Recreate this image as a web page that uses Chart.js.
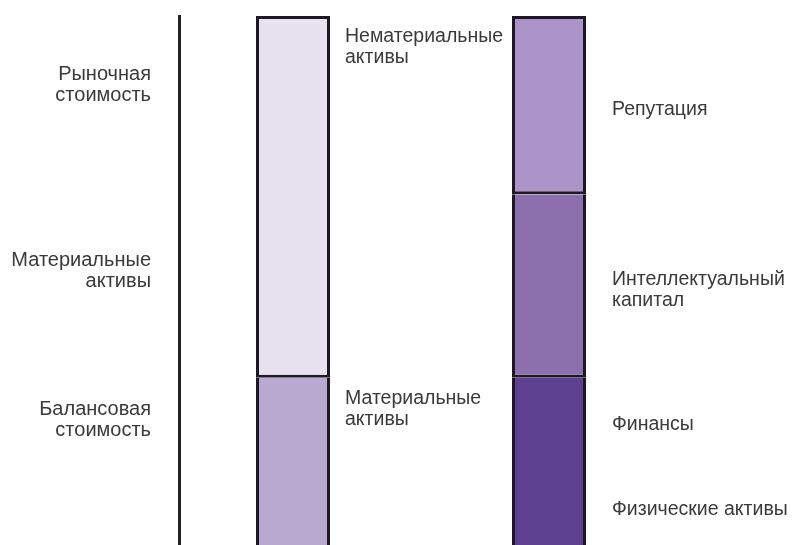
<!DOCTYPE html>
<html>
<head>
<meta charset="utf-8">
<script src="https://cdn.jsdelivr.net/npm/chart.js@4.4.0/dist/chart.umd.min.js"></script>
<style>
  html, body { margin: 0; padding: 0; background: #fff; }
  #wrap { width: 796px; height: 545px; position: relative; }
</style>
</head>
<body>
<div id="wrap"><canvas id="capitalChart"></canvas></div>
<script>
// Labels on the left axis and where they sit on the value scale
var axisLabels = [['Рыночная', 'стоимость'], ['Материальные', 'активы'], ['Балансовая', 'стоимость']];
var axisLabelValues = [87, 52, 24];

// Left bar: book value + intangibles = market value
var leftBarNames = ['Материальные\nактивы', 'Нематериальные\nактивы'];
var leftBarValues = [32, 68];

// Right bar: breakdown of the same market value
var rightBarNames = ['Физические активы', 'Финансы', 'Интеллектуальный\nкапитал', 'Репутация'];
var rightBarValues = [16, 16, 34.5, 33.5];

var barPositions = [1, 2];

var edge = '#1c1824';
var textColor = '#3a3a3a';
var fontFamily = '"Liberation Sans", Arial, sans-serif';

var datasets = [
    {
        label: leftBarNames[0],
        data: [{ x: barPositions[0], y: leftBarValues[0] }],
        backgroundColor: '#b9a9d1',
        borderWidth: { top: 0, left: 3, right: 3, bottom: 0 },
        bar: 0
    },
    {
        label: leftBarNames[1],
        data: [{ x: barPositions[0], y: leftBarValues[1] }],
        backgroundColor: '#e8e1ef',
        borderWidth: { top: 3, left: 3, right: 3, bottom: 3 },
        bar: 0
    },
    {
        label: rightBarNames[0],
        data: [{ x: barPositions[1], y: rightBarValues[0] }],
        backgroundColor: '#5d418f',
        borderWidth: { top: 0, left: 3, right: 3, bottom: 0 },
        bar: 1
    },
    {
        label: rightBarNames[1],
        data: [{ x: barPositions[1], y: rightBarValues[1] }],
        backgroundColor: '#5d418f',
        borderWidth: { top: 0, left: 3, right: 3, bottom: 0 },
        bar: 1
    },
    {
        label: rightBarNames[2],
        data: [{ x: barPositions[1], y: rightBarValues[2] }],
        backgroundColor: '#8b70ad',
        borderWidth: { top: 0, left: 3, right: 3, bottom: 3 },
        bar: 1
    },
    {
        label: rightBarNames[3],
        data: [{ x: barPositions[1], y: rightBarValues[3] }],
        backgroundColor: '#ab94c8',
        borderWidth: { top: 3, left: 3, right: 3, bottom: 3 },
        bar: 1
    }
];

datasets.forEach(function (ds) {
    ds.borderColor = edge;
    ds.borderSkipped = false;
    ds.barThickness = 74;
    ds.inflateAmount = 0;
});

// Draw the segment names next to each bar
var segmentLabels = {
    id: 'segmentLabels',
    afterDatasetsDraw: function (chart) {
        var ctx = chart.ctx;
        var lineHeight = 21;
        ctx.save();
        ctx.fillStyle = textColor;
        ctx.font = '19.5px ' + fontFamily;
        ctx.textAlign = 'left';
        chart.data.datasets.forEach(function (ds, i) {
            var el = chart.getDatasetMeta(i).data[0];
            var p = el.getProps(['x', 'y', 'base', 'width'], true);
            var lines = ds.label.split('\n');
            var x, y0;
            if (ds.bar === 0) {
                // top aligned, just below the segment's top edge
                x = p.x + p.width / 2 + 15;
                y0 = p.y + 10 + lineHeight / 2;
            } else {
                // centred on the segment
                x = p.x + p.width / 2 + 26;
                y0 = (p.y + p.base) / 2 + 4 - (lines.length - 1) * lineHeight / 2;
            }
            ctx.textBaseline = 'middle';
            lines.forEach(function (t, k) {
                ctx.fillText(t, x, y0 + k * lineHeight);
            });
        });
        ctx.restore();
    }
};

var ctx = document.getElementById('capitalChart').getContext('2d');
var capitalChart = new Chart(ctx, {
    type: 'bar',
    data: { datasets: datasets },
    plugins: [segmentLabels],
    options: {
        responsive: true,
        maintainAspectRatio: false,
        animation: false,
        layout: { padding: { top: 16, right: 0, bottom: 0, left: 0 } },
        scales: {
            x: {
                type: 'linear',
                stacked: true,
                display: false,
                offset: false,
                min: 0.5547,
                max: 2.9648
            },
            y: {
                stacked: true,
                // bars start just below the bottom edge, as in the cropped original
                min: 0.591,
                max: 100,
                grid: { display: false, drawTicks: false },
                border: { display: true, color: '#222', width: 3 },
                afterBuildTicks: function (scale) {
                    scale.ticks = axisLabelValues.map(function (v) { return { value: v }; });
                },
                afterFit: function (scale) {
                    scale.width = 179;
                    scale.paddingTop = 0;
                    scale.paddingBottom = 0;
                },
                ticks: {
                    padding: 28,
                    color: textColor,
                    font: { family: fontFamily, size: 20, lineHeight: 1.05 },
                    callback: function (value, index) {
                        return axisLabels[index];
                    }
                }
            }
        },
        plugins: {
            legend: { display: false },
            tooltip: { enabled: false }
        }
    }
});
</script>
</body>
</html>
